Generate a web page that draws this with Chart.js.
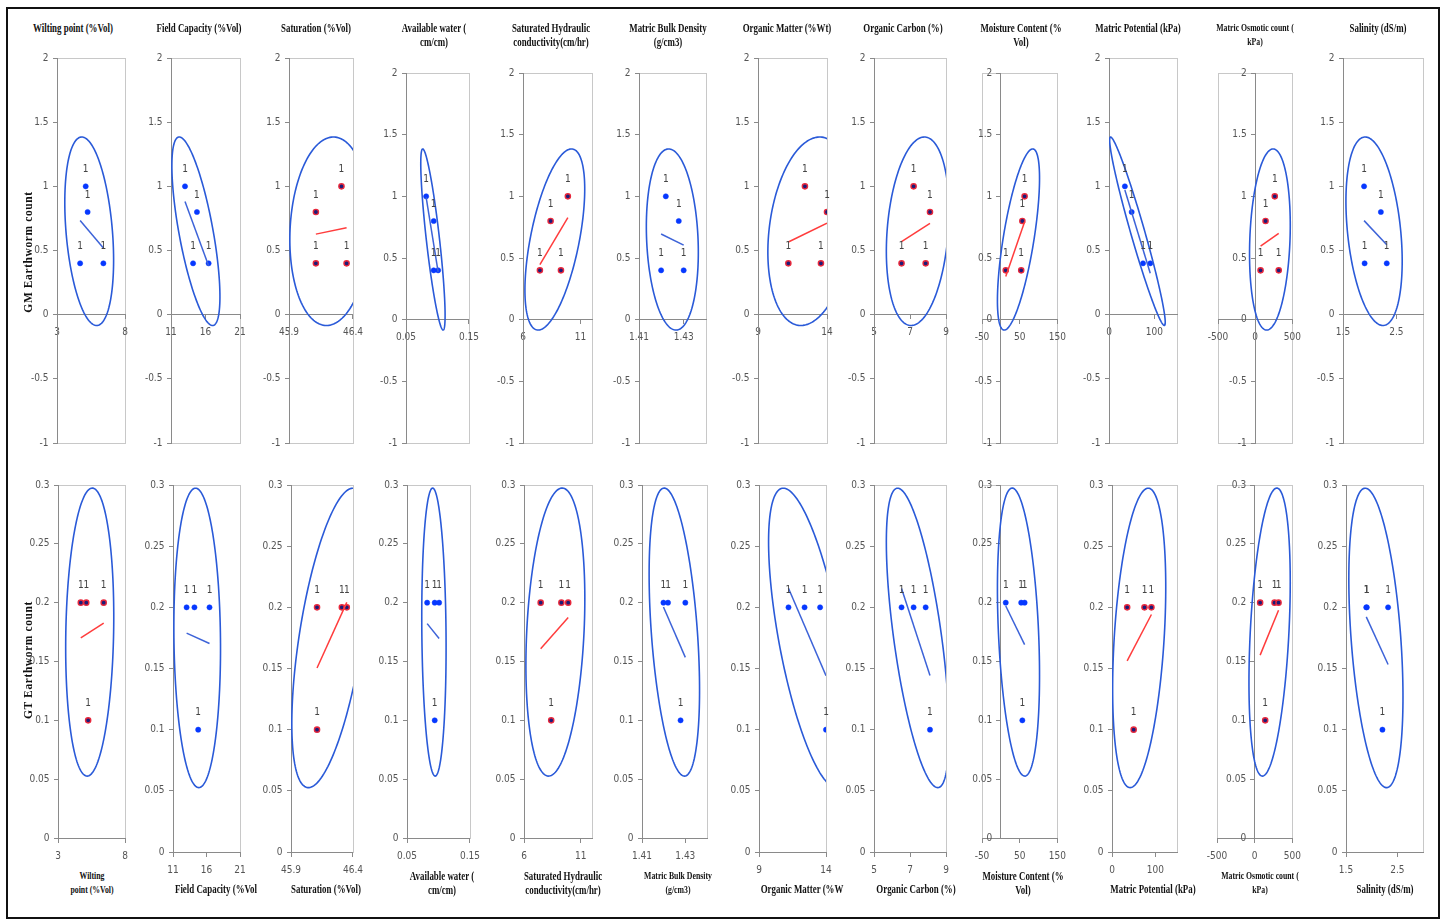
<!DOCTYPE html>
<html>
<head>
<meta charset="utf-8">
<script src="https://cdn.jsdelivr.net/npm/chart.js@4.4.0/dist/chart.umd.min.js"></script>
<style>
  body { margin: 0; background: #fff; width: 1442px; height: 922px; position: relative; overflow: hidden; }
  #frame { position: absolute; left: 6px; top: 7px; width: 1430px; height: 908px; border: 2px solid #111; }
  canvas { position: absolute; }
  .ttl { position: absolute; font-family: 'Liberation Serif', 'Times New Roman', serif; font-weight: bold;
         font-size: 12px; line-height: 14px; color: #111; text-align: center; white-space: nowrap;
         transform: translateX(-50%) scaleX(0.74); transform-origin: center top; }
  .ttl.small { font-size: 10.5px; line-height: 14px; }
  .ylab { position: absolute; font-family: 'Liberation Serif', 'Times New Roman', serif; font-weight: bold;
          font-size: 11.5px; letter-spacing: 0.6px; color: #111; white-space: nowrap;
          transform: translate(-50%, -50%) rotate(-90deg); }
</style>
</head>
<body>
<div id="frame"></div>
<script>
// earthworm counts per site (same four sites in every panel)
const gmCount = [1, 0.8, 0.4, 0.4];
const gtCount = [0.2, 0.1, 0.2, 0.2];

// soil properties at the four sites
const wiltingPoint    = [5.11, 5.25, 4.70, 6.41];
const fieldCapacity   = [13.03, 14.76, 14.2, 16.45];
const saturation      = [46.31, 46.11, 46.11, 46.35];
const availableWater  = [0.082, 0.094, 0.094, 0.101];
const satHydCond      = [9.9, 8.4, 7.47, 9.3];
const bulkDensity     = [1.422, 1.4278, 1.4199, 1.43];
const organicMatter   = [12.4, 14.0, 11.2, 13.56];
const organicCarbon   = [7.2, 8.11, 6.53, 7.87];
const moistureContent = [63, 57, 13, 54];
const matricPotential = [35, 50, 75, 91];
const osmoticCount    = [263, 139, 72, 316];
const salinity        = [1.895, 2.21, 1.905, 2.32];

const properties = [wiltingPoint, fieldCapacity, saturation, availableWater, satHydCond, bulkDensity,
                    organicMatter, organicCarbon, moistureContent, matricPotential, osmoticCount, salinity];

// axes
const xMin = [3, 11, 45.9, 0.05, 6, 1.41, 9, 5, -50, 0, -500, 1.5];
const xMax = [8, 21, 46.4, 0.15, 12, 1.44, 14, 9, 150, 150, 500, 3];
const xTickVals = [[3, 8], [11, 16, 21], [45.9, 46.4], [0.05, 0.15], [6, 11], [1.41, 1.43], [9, 14],
                   [5, 7, 9], [-50, 50, 150], [0, 100], [-500, 0, 500], [1.5, 2.5]];
const yCrossAt = [3, 11, 45.9, 0.05, 6, 1.41, 9, 5, 0, 0, 0, 1.5];
const gmTicks = [-1, -0.5, 0, 0.5, 1, 1.5, 2];
const gtTicks = [0, 0.05, 0.1, 0.15, 0.2, 0.25, 0.3];

const topTitles = [['Wilting point (%Vol)'], ['Field Capacity (%Vol)'], ['Saturation (%Vol)'],
  ['Available water (', 'cm/cm)'], ['Saturated Hydraulic', 'conductivity(cm/hr)'], ['Matric Bulk Density', '(g/cm3)'],
  ['Organic Matter (%Wt)'], ['Organic Carbon (%)'], ['Moisture Content (%', 'Vol)'],
  ['Matric Potential (kPa)'], ['Matric Osmotic count (', 'kPa)'], ['Salinity (dS/m)']];
const bottomTitles = [['Wilting', 'point (%Vol)'], ['Field Capacity (%Vol'], ['Saturation (%Vol)'],
  ['Available water (', 'cm/cm)'], ['Saturated Hydraulic', 'conductivity(cm/hr)'], ['Matric Bulk Density', '(g/cm3)'],
  ['Organic Matter (%W'], ['Organic Carbon (%)'], ['Moisture Content (%', 'Vol)'],
  ['Matric Potential (kPa)'], ['Matric Osmotic count (', 'kPa)'], ['Salinity (dS/m)']];
const smallTop = [10];
const smallBottom = [0, 5, 10];

// page layout: plot boxes [left, right, top, bottom]
const topBoxes = [[57, 125, 58, 443], [171, 240, 58, 443], [289, 355, 58, 443], [406, 471, 73, 443],
  [523, 592, 73, 443], [639, 706, 73, 443], [758, 827, 58, 443], [874, 946, 58, 443],
  [982, 1058, 73, 443], [1109, 1177, 58, 443], [1218, 1293, 73, 443], [1343, 1423, 58, 443]];
const bottomBoxes = [[58, 125, 485, 838], [173, 240, 485, 852], [291, 355, 485, 852], [407, 472, 485, 838],
  [524, 592, 485, 838], [642, 707, 485, 838], [759, 826, 485, 852], [874, 946, 485, 852],
  [982, 1058, 485, 838], [1112, 1177, 485, 852], [1217, 1293, 485, 838], [1346, 1423, 485, 852]];
const topTitleX = [73, 199, 316, 434, 551, 668, 787, 903, 1021, 1138, 1255, 1378];
const bottomTitleX = [92, 216, 326, 442, 563, 678, 802, 916, 1023, 1153, 1260, 1385];

const PAD = { left: 40, right: 16, top: 10, bottom: 30 };
const TICK_FONT = { family: "'Liberation Sans Narrow', 'Arial Narrow', 'DejaVu Sans Condensed', sans-serif", size: 10 };
const AXIS_GREY = '#8a8a8a';
const ELLIPSE_BLUE = '#2a5ad8';
const CHI2_95 = 5.991;

function stats(xs, ys) {
  const n = xs.length;
  const mx = xs.reduce((a, b) => a + b, 0) / n;
  const my = ys.reduce((a, b) => a + b, 0) / n;
  let sxx = 0, syy = 0, sxy = 0;
  for (let i = 0; i < n; i++) {
    sxx += (xs[i] - mx) ** 2; syy += (ys[i] - my) ** 2; sxy += (xs[i] - mx) * (ys[i] - my);
  }
  return { mx, my, vx: sxx / (n - 1), vy: syy / (n - 1), cxy: sxy / (n - 1), slope: sxy / sxx };
}

// plot-area frame (Excel style light grey box)
const boxPlugin = {
  id: 'box',
  beforeDraw(chart) {
    const { ctx, chartArea: a } = chart;
    ctx.save();
    ctx.strokeStyle = '#c8c8c8';
    ctx.lineWidth = 1;
    ctx.strokeRect(Math.round(a.left) + 0.5, Math.round(a.top) + 0.5, Math.round(a.width), Math.round(a.height));
    ctx.restore();
  }
};

// 95% confidence ellipse of the points, plus the "1" count labels
const overlayPlugin = {
  id: 'overlay',
  afterDatasetsDraw(chart) {
    const { ctx, chartArea: a, scales } = chart;
    const pts = chart.data.datasets[1].data;
    const s = stats(pts.map(p => p.x), pts.map(p => p.y));
    const k = Math.sqrt(CHI2_95);
    const sx = Math.sqrt(s.vx);
    const a21 = s.cxy / sx;
    const a22 = Math.sqrt(Math.max(s.vy - a21 * a21, 0));
    ctx.save();
    ctx.beginPath();
    ctx.rect(a.left, a.top, a.width, a.height);
    ctx.clip();
    ctx.beginPath();
    for (let i = 0; i <= 180; i++) {
      const t = (i / 180) * Math.PI * 2;
      const c = Math.cos(t), sn = Math.sin(t);
      const px = scales.x.getPixelForValue(s.mx + k * sx * c);
      const py = scales.y.getPixelForValue(s.my + k * (a21 * c + a22 * sn));
      if (i === 0) ctx.moveTo(px, py); else ctx.lineTo(px, py);
    }
    ctx.strokeStyle = ELLIPSE_BLUE;
    ctx.lineWidth = 1.6;
    ctx.stroke();
    ctx.restore();

    ctx.save();
    ctx.font = "10px 'Liberation Sans Narrow', 'Arial Narrow', 'DejaVu Sans Condensed', sans-serif";
    ctx.fillStyle = '#444';
    ctx.textAlign = 'center';
    ctx.textBaseline = 'middle';
    pts.forEach(p => {
      ctx.fillText('1', scales.x.getPixelForValue(p.x), scales.y.getPixelForValue(p.y) - 17);
    });
    ctx.restore();
  }
};

function makePanel(i, ys, yTicks, box) {
  const xs = properties[i];
  const [L, R, T, B] = box;
  const cv = document.createElement('canvas');
  const w = R - L + PAD.left + PAD.right;
  const h = B - T + PAD.top + PAD.bottom;
  cv.width = w; cv.height = h;
  cv.style.left = (L - PAD.left) + 'px';
  cv.style.top = (T - PAD.top) + 'px';
  cv.style.width = w + 'px'; cv.style.height = h + 'px';
  document.body.appendChild(cv);

  const pts = xs.map((x, j) => ({ x, y: ys[j] }));
  const s = stats(xs, ys);
  const positive = s.slope > 0;
  const lo = Math.min(...xs), hi = Math.max(...xs);
  const trend = [{ x: lo, y: s.my + s.slope * (lo - s.mx) }, { x: hi, y: s.my + s.slope * (hi - s.mx) }];

  new Chart(cv, {
    type: 'scatter',
    data: {
      datasets: [
        { data: trend, showLine: true, pointRadius: 0, borderColor: positive ? '#ff3c3c' : '#3d63d8', borderWidth: 1.5 },
        { data: pts, pointRadius: 2.6, pointBorderWidth: positive ? 1.4 : 0.5,
          backgroundColor: positive ? '#1c1c78' : '#0638ff', borderColor: positive ? '#e8283c' : '#0638ff' }
      ]
    },
    options: {
      responsive: false, animation: false, events: [],
      layout: { padding: PAD },
      plugins: { legend: { display: false }, tooltip: { enabled: false } },
      scales: {
        x: {
          type: 'linear', min: xMin[i], max: xMax[i], position: { y: 0 },
          afterBuildTicks: sc => { sc.ticks = xTickVals[i].map(v => ({ value: v })); },
          grid: { drawOnChartArea: false, color: AXIS_GREY, tickLength: 4 },
          border: { color: AXIS_GREY, width: 1 },
          ticks: { font: TICK_FONT, color: '#555', padding: 8, maxRotation: 0, autoSkip: false, callback: v => String(v) }
        },
        y: {
          type: 'linear', min: yTicks[0], max: yTicks[yTicks.length - 1], position: { x: yCrossAt[i] },
          afterBuildTicks: sc => { sc.ticks = yTicks.map(v => ({ value: v })); },
          grid: { drawOnChartArea: false, color: AXIS_GREY, tickLength: 4 },
          border: { color: AXIS_GREY, width: 1 },
          // labels sit right against a value-positioned axis, so pad them with trailing spaces
          ticks: { font: TICK_FONT, color: '#555', autoSkip: false, callback: v => String(v) + '   ' }
        }
      }
    },
    plugins: [boxPlugin, overlayPlugin]
  });
}

function addTitle(lines, cx, firstCenterY, small) {
  const d = document.createElement('div');
  d.className = 'ttl' + (small ? ' small' : '');
  d.style.left = cx + 'px';
  d.style.top = (firstCenterY - 7) + 'px';
  d.innerHTML = lines.join('<br>');
  document.body.appendChild(d);
}

function addYLabel(text, cx, cy) {
  const d = document.createElement('div');
  d.className = 'ylab';
  d.style.left = cx + 'px';
  d.style.top = cy + 'px';
  d.textContent = text;
  document.body.appendChild(d);
}

for (let i = 0; i < 12; i++) {
  makePanel(i, gmCount, gmTicks, topBoxes[i]);
  makePanel(i, gtCount, gtTicks, bottomBoxes[i]);
  addTitle(topTitles[i], topTitleX[i], 28, smallTop.includes(i));
  addTitle(bottomTitles[i], bottomTitleX[i], bottomTitles[i].length > 1 ? 876 : 889, smallBottom.includes(i));
}
addYLabel('GM Earthworm count', 28, 252);
addYLabel('GT Earthworm count', 28, 660);
</script>
</body>
</html>
